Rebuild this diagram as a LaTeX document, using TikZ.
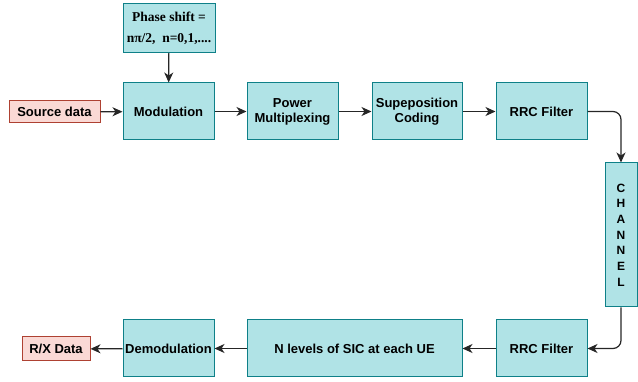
\documentclass[tikz,border=0pt]{standalone}
\usepackage{fontspec}
\setmainfont{Liberation Sans}
\newfontfamily\timesf{Liberation Serif}
\usetikzlibrary{arrows.meta}
\definecolor{bfill}{HTML}{B0E3E6}
\definecolor{bdraw}{HTML}{0E8088}
\definecolor{rfill}{HTML}{FAD9D5}
\definecolor{rdraw}{HTML}{AE4132}
\begin{document}
\begin{tikzpicture}[x=1pt,y=-1pt,
  blk/.style={draw=bdraw,fill=bfill,line width=1pt,inner sep=0pt,align=center,font=\fontsize{13}{15}\selectfont\bfseries},
  red/.style={draw=rdraw,fill=rfill,line width=1pt,inner sep=0pt,align=center,font=\fontsize{13}{15}\selectfont\bfseries},
  conn/.style={line width=1.2pt,draw=black!85,-{Stealth[length=10pt,width=9pt,inset=3pt]},rounded corners=8pt}]
\useasboundingbox (0,0) rectangle (638,382);
% blocks: centre and size
\node[blk,minimum width=92pt,minimum height=49pt,font=\timesf\fontsize{13.5}{21}\selectfont\bfseries] (phase) at (169,28) {Phase shift =\\nπ/2,\ \ n=0,1,....};
\node[red,minimum width=91pt,minimum height=22pt] (src) at (54.5,112) {Source data};
\node[blk,minimum width=91pt,minimum height=57pt] (mod) at (168.5,111.5) {Modulation};
\node[blk,minimum width=91pt,minimum height=57pt] (pow) at (292.5,111.5) {Power\\Multiplexing};
\node[blk,minimum width=90pt,minimum height=57pt] (sup) at (417,111.5) {Supeposition\\Coding};
\node[blk,minimum width=91pt,minimum height=57pt] (rrc) at (541.5,111.5) {RRC Filter};
\node[blk,minimum width=32pt,minimum height=144pt,font=\fontsize{12}{15.7}\selectfont\bfseries] (chan) at (621,235) {C\\H\\A\\N\\N\\E\\L};
\node[blk,minimum width=91pt,minimum height=57pt] (rrcb) at (541.5,348.5) {RRC Filter};
\node[blk,minimum width=215pt,minimum height=57pt] (sic) at (354.5,348.5) {N levels of SIC at each UE};
\node[blk,minimum width=91pt,minimum height=57pt] (dem) at (168.5,348.5) {Demodulation};
\node[red,minimum width=68pt,minimum height=24pt] (rx) at (56,349) {R/X Data};
% connectors
\draw[conn] (phase) -- (mod);
\draw[conn] (src) -- (mod);
\draw[conn] (mod) -- (pow);
\draw[conn] (pow) -- (sup);
\draw[conn] (sup) -- (rrc);
\draw[conn] (rrc.east) -| (chan.north);
\draw[conn] (chan.south) |- (rrcb.east);
\draw[conn] (rrcb) -- (sic);
\draw[conn] (sic) -- (dem);
\draw[conn] (dem) -- (rx);
\end{tikzpicture}
\end{document}
